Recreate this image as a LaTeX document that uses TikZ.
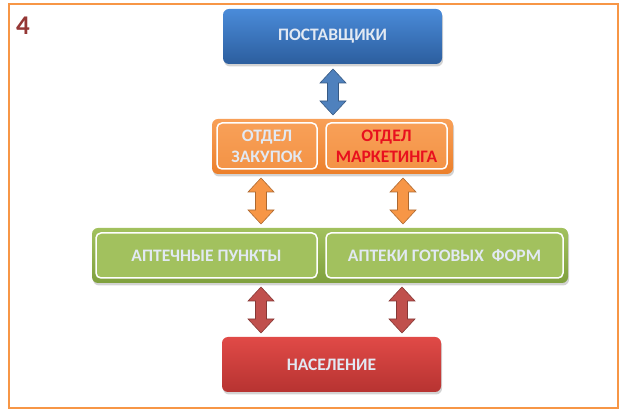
\documentclass[tikz,border=0pt]{standalone}
\usepackage{fontspec}
\setmainfont{Carlito}
\usetikzlibrary{positioning,shadows}
\definecolor{framecol}{HTML}{F79646}
\definecolor{numcol}{HTML}{953735}
\definecolor{suptop}{HTML}{4A8BD9}
\definecolor{supbot}{HTML}{2C5E9E}
\definecolor{deptop}{HTML}{F8A058}
\definecolor{depbot}{HTML}{EC7F2A}
\definecolor{phtop}{HTML}{A2C15E}
\definecolor{phbot}{HTML}{7FA03D}
\definecolor{poptop}{HTML}{E04A47}
\definecolor{popbot}{HTML}{B73331}
\definecolor{txtcol}{HTML}{E2E9F3}
\definecolor{mktcol}{HTML}{E8101E}
\definecolor{arrblue}{HTML}{4F81BD}
\definecolor{arrorange}{HTML}{F79646}
\definecolor{arrred}{HTML}{C0504D}

\tikzset{
  pics/dblarrow/.style args={#1/#2}{code={
    \draw[draw=#2!70!black, fill=#2, line width=0.6pt]
      (-5.5,{-#1/2+14}) -- (-13,{-#1/2+14}) -- (0,{-#1/2}) -- (13,{-#1/2+14})
      -- (5.5,{-#1/2+14}) -- (5.5,{#1/2-14}) -- (13,{#1/2-14}) -- (0,{#1/2})
      -- (-13,{#1/2-14}) -- (-5.5,{#1/2-14}) -- cycle;
  }},
}

\begin{document}
\begin{tikzpicture}[
  x=1pt, y=1pt,
  font=\bfseries\fontsize{17.5}{21}\selectfont,
  box/.style={
    rounded corners=6pt, inner sep=0pt, align=center, text=txtcol,
    drop shadow={opacity=0.35, shadow xshift=1pt, shadow yshift=-2.5pt},
  },
  inbox/.style={
    rounded corners=5pt, draw=white, line width=1.5pt, inner sep=0pt,
    align=center, text=txtcol,
  },
]
\useasboundingbox (0,0) rectangle (624,412);

% frame and slide number
\draw[framecol, line width=2pt] (9,4) rectangle (618,408);
\node[font=\bfseries\fontsize{27}{30}\selectfont, text=numcol] (num) at (23,386.5) {4};

% ============================================================
% SUPPLIERS
% ============================================================
\node[box, top color=suptop, bottom color=supbot, minimum width=219, minimum height=55]
  (sup) at (332.5,375.5) {ПОСТАВЩИКИ};

% ============================================================
% DEPARTMENTS
% ============================================================
\node[box, top color=deptop, bottom color=depbot, minimum width=241, minimum height=55]
  (dep) at (332.5,265.5) {};
\node[inbox, top color=deptop, bottom color=deptop!60!depbot, minimum width=100, minimum height=46]
  (buy) at (267,266) {ОТДЕЛ\\ЗАКУПОК};
\node[inbox, top color=deptop, bottom color=deptop!60!depbot, minimum width=121, minimum height=46, text=mktcol]
  (mkt) at (386.5,266) {ОТДЕЛ\\МАРКЕТИНГА};

% ============================================================
% PHARMACIES
% ============================================================
\node[box, top color=phtop, bottom color=phbot, minimum width=476, minimum height=55]
  (pharm) at (330,156.5) {};
\node[inbox, fill=phtop, minimum width=221, minimum height=45]
  (points) at (206.5,156.5) {АПТЕЧНЫЕ ПУНКТЫ};
\node[inbox, fill=phtop, minimum width=237, minimum height=45]
  (ready) at (444.5,156.5) {АПТЕКИ ГОТОВЫХ\ \ ФОРМ};

% ============================================================
% POPULATION
% ============================================================
\node[box, top color=poptop, bottom color=popbot, minimum width=219, minimum height=55]
  (pop) at (331.5,47.5) {НАСЕЛЕНИЕ};

% block arrows between the levels
\pic (a1) at (333,320) {dblarrow={46/arrblue}};
\pic (a2) at (261,211) {dblarrow={46/arrorange}};
\pic (a3) at (403,211) {dblarrow={46/arrorange}};
\pic (a4) at (261,102) {dblarrow={46/arrred}};
\pic (a5) at (402,102) {dblarrow={46/arrred}};

\end{tikzpicture}
\end{document}
